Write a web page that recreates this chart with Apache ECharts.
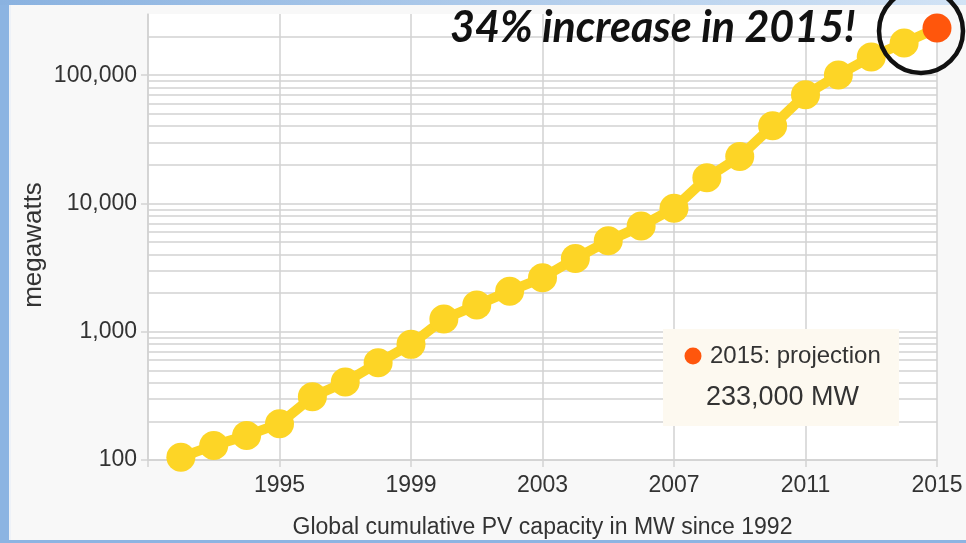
<!DOCTYPE html>
<html>
<head>
<meta charset="utf-8">
<script src="https://cdn.jsdelivr.net/npm/echarts@6/dist/echarts.min.js"></script>
<style>html,body{margin:0;padding:0;background:#f8f8f8}#c{width:966px;height:543px}</style>
</head>
<body>
<div id="c"></div>
<script>
// ---- data ----
const YEARS = [1992,1993,1994,1995,1996,1997,1998,1999,2000,2001,2002,2003,2004,2005,2006,2007,2008,2009,2010,2011,2012,2013,2014,2015];
const CAPACITY_MW = [105,130,155,192,311,405,573,797,1257,1615,2069,2635,3723,5112,6660,9183,15844,23185,40336,70469,100504,138856,178391,233000];
const PROJECTION_YEAR = 2015;
const START_YEAR = 1991;
const END_YEAR = 2015;
const X_TICK_STEP = 4;
const Y_MIN = 100, Y_MAX = 300000;
const Y_MAJOR = [100,1000,10000,100000];
const MINOR_MULT = [2,3,4,5,6,7,8,9];
const TITLE_TEXT = '34% increase in 2015!';
const LEGEND_TEXT = '2015: projection';
const LEGEND_VALUE = '233,000 MW';
const X_NAME = 'Global cumulative PV capacity in MW since 1992';
const Y_NAME = 'megawatts';

const YELLOW = '#fdd526', ORANGE = '#ff560c', GRID = '#d2d2d2';
const FONT = '"Liberation Sans",Arial,sans-serif';

const minorGrid = [];
Y_MAJOR.forEach(d => MINOR_MULT.forEach(m => { if (d*m < Y_MAX) minorGrid.push(d*m); }));

const seriesData = YEARS.map((y,i) => {
  const item = { value: [y - START_YEAR, CAPACITY_MW[i]] };
  if (y === PROJECTION_YEAR) item.itemStyle = { color: ORANGE };
  return item;
});

const chart = echarts.init(document.getElementById('c'), null, {renderer:'canvas'});
chart.setOption({
  backgroundColor: '#f8f8f8',
  animation: false,
  grid: { left: 148, right: 29, top: 14, bottom: 83, show: true, backgroundColor: '#ffffff', borderWidth: 0,
          containLabel: false, outerBoundsMode: 'none' },
  xAxis: {
    type: 'value', min: 0, max: END_YEAR - START_YEAR, interval: X_TICK_STEP,
    name: X_NAME, nameLocation: 'middle', nameGap: 56, nameMoveOverlap: false,
    nameTextStyle: { fontFamily: FONT, fontSize: 23, color: '#333' },
    axisLine: { show: true, lineStyle: { color: GRID, width: 1.5 } },
    axisTick: { show: true, length: 7, lineStyle: { color: GRID, width: 1.5 } },
    axisLabel: { margin: 14, fontFamily: FONT, fontSize: 23, color: '#333',
      formatter: v => v === 0 ? '' : String(v + START_YEAR) },
    splitLine: { show: true, lineStyle: { color: GRID, width: 1.5 } }
  },
  yAxis: {
    type: 'log', logBase: 10, min: Y_MIN, max: Y_MAX,
    name: Y_NAME, nameLocation: 'middle', nameGap: 101, nameRotate: 90, nameMoveOverlap: false,
    nameTextStyle: { fontFamily: FONT, fontSize: 26, color: '#333', padding: [0, 16, 0, 0] },
    axisLine: { show: true, lineStyle: { color: GRID, width: 1.5 } },
    axisTick: { show: true, length: 7, lineStyle: { color: GRID, width: 1.5 }, customValues: Y_MAJOR },
    axisLabel: { margin: 11, fontFamily: FONT, fontSize: 23, color: '#333', customValues: Y_MAJOR,
      formatter: v => { const r = Math.round(v); return Y_MAJOR.indexOf(r) >= 0 ? r.toLocaleString('en-US') : ''; } },
    splitLine: { show: true, lineStyle: { color: GRID, width: 1.5 } }
  },
  series: [{
    type: 'line', data: seriesData, z: 3,
    symbol: 'circle', symbolSize: 29,
    lineStyle: { color: YELLOW, width: 10 },
    itemStyle: { color: YELLOW },
    markLine: {
      silent: true, symbol: 'none', z: 1, animation: false,
      label: { show: false },
      lineStyle: { color: GRID, width: 1.5, type: 'solid' },
      emphasis: { disabled: true },
      data: minorGrid.map(v => ({ yAxis: v }))
    }
  }],
  graphic: [
    { type: 'rect', left: 0, top: 0, shape: { width: 9, height: 543 }, style: { fill: '#8cb4e2' }, z: 10 },
    { type: 'rect', left: 9, top: 0, shape: { width: 2, height: 543 }, style: { fill: '#eef2f8' }, z: 10 },
    { type: 'rect', left: 0, top: 0, shape: { width: 966, height: 5 }, z: 10,
      style: { fill: new echarts.graphic.LinearGradient(0,0,1,0,[{offset:0,color:'#8ab2e0'},{offset:1,color:'#d2e3f5'}]) } },
    { type: 'rect', left: 0, top: 540, shape: { width: 966, height: 3 }, style: { fill: '#8cb4e2' }, z: 10 },
    { type: 'text', left: 450, top: 7, z: 20,
      style: { text: TITLE_TEXT, font: 'italic bold 43px Lato, "Open Sans", sans-serif', fill: '#111' } },
    { type: 'circle', shape: { cx: 921, cy: 31, r: 42 }, z: 20,
      style: { fill: 'none', stroke: '#111', lineWidth: 4.5 } },
    { type: 'rect', shape: { x: 663, y: 329, width: 236, height: 97 }, style: { fill: '#fdf9f0' }, z: 15 },
    { type: 'circle', shape: { cx: 693, cy: 356, r: 8.5 }, style: { fill: ORANGE }, z: 16 },
    { type: 'text', x: 710, y: 356, z: 16,
      style: { text: LEGEND_TEXT, font: '24px ' + FONT, fill: '#333', verticalAlign: 'middle' } },
    { type: 'text', x: 706, y: 398, z: 16,
      style: { text: LEGEND_VALUE, font: '27px ' + FONT, fill: '#333', verticalAlign: 'middle' } }
  ]
});
</script>
</body>
</html>
